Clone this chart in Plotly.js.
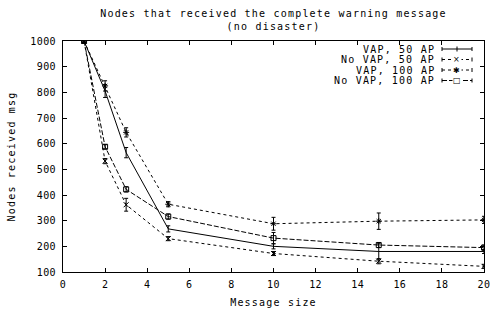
<!DOCTYPE html>
<html><head><meta charset="utf-8">
<script src="https://cdn.plot.ly/plotly-3.0.1.min.js"></script>
<style>
html,body{margin:0;padding:0;background:#fff}#c{width:501px;height:311px}
.gtitle, .g-xtitle text, .g-ytitle text, .annotation-text{letter-spacing:1.2px}
.xtick text, .ytick text{letter-spacing:0.4px}
</style>
</head><body><div id="c"></div>
<script>
const msgSize = [1, 2, 3, 5, 10, 15, 20];
const vap50 = [1000, 805, 565, 268, 200, 180, 180];
const vap50Err = [5, 25, 20, 12, 10, 30, 8];
const noVap50 = [1000, 532, 362, 230, 172, 142, 122];
const noVap50Err = [5, 10, 25, 8, 8, 10, 8];
const vap100 = [1000, 825, 644, 364, 288, 298, 303];
const vap100Err = [5, 20, 18, 10, 25, 32, 14];
const noVap100 = [1000, 588, 422, 316, 232, 205, 195];
const noVap100Err = [5, 8, 10, 10, 22, 10, 10];
const names = ["VAP, 50 AP", "No VAP, 50 AP", "VAP, 100 AP", "No VAP, 100 AP"];
const xTicks = [0,2,4,6,8,10,12,14,16,18,20];
const yTicks = [100,200,300,400,500,600,700,800,900,1000];

const font = "DejaVu Sans Mono, monospace";
const dashes = ['solid', 'dot', '3px,3px', '5px,2px'];
const glyphs = ['', '×', '✱', '□'];
function tr(y, e, name, dash, sym) {
  return {x: msgSize, y: y, name: name, type: 'scatter', mode: sym ? 'lines+markers' : 'lines',
    showlegend: false,
    line: {color: '#000', width: 1, dash: dash},
    marker: {symbol: sym || 'line-ew', size: 5, color: '#000', line: {color: '#000', width: 1}},
    error_y: {type: 'data', array: e, visible: true, color: '#000', thickness: 1, width: 2}};
}
const data = [
  tr(vap50, vap50Err, names[0], dashes[0], null),
  tr(noVap50, noVap50Err, names[1], dashes[1], 'x-thin-open'),
  tr(vap100, vap100Err, names[2], dashes[2], 'asterisk-open'),
  tr(noVap100, noVap100Err, names[3], dashes[3], 'square-open')
];

// custom gnuplot-style key: text right-aligned, sample on the right
const L = 63, W = 421, T = 41, H = 231;
const px = p => (p - L) / W, py = q => (272 - q) / H;
const rows = [49, 59.5, 70, 80.5];
const annotations = [], shapes = [];
names.forEach((n, i) => {
  annotations.push({xref: 'paper', yref: 'paper', x: px(437), y: py(rows[i]), xanchor: 'right', yanchor: 'middle',
    text: n, showarrow: false, font: {family: font, size: 10, color: '#000'}});
  shapes.push({type: 'line', xref: 'paper', yref: 'paper', x0: px(442), x1: px(472), y0: py(rows[i]), y1: py(rows[i]),
    line: {color: '#000', width: 1, dash: dashes[i]}});
  [442, 472].forEach(xx => shapes.push({type: 'line', xref: 'paper', yref: 'paper', x0: px(xx), x1: px(xx),
    y0: py(rows[i] - 2), y1: py(rows[i] + 2), line: {color: '#000', width: 1}}));
  if (i === 0) {
    shapes.push({type: 'line', xref: 'paper', yref: 'paper', x0: px(457), x1: px(457),
      y0: py(rows[i] - 2.5), y1: py(rows[i] + 2.5), line: {color: '#000', width: 1}});
  } else {
    annotations.push({xref: 'paper', yref: 'paper', x: px(457), y: py(rows[i]), xanchor: 'center', yanchor: 'middle',
      text: glyphs[i], showarrow: false, bgcolor: '#fff', borderpad: 0,
      font: {family: 'DejaVu Sans', size: 8, color: '#000'}});
  }
});

const ax = {showgrid: false, zeroline: false, showline: true, linecolor: '#000', linewidth: 1,
  mirror: 'ticks', ticks: 'inside', ticklen: 4, tickcolor: '#000',
  tickfont: {family: font, size: 10, color: '#000'}};
const layout = {
  width: 501, height: 311, paper_bgcolor: '#fff', plot_bgcolor: '#fff',
  margin: {l: 63, r: 17, t: 41, b: 39},
  title: {text: 'Nodes that received the complete warning message<br>(no disaster)',
    font: {family: font, size: 10, color: '#000'}, xref: 'paper', x: 0.5, xanchor: 'center',
    yref: 'container', y: 0.946, yanchor: 'top'},
  xaxis: Object.assign({}, ax, {range: [0, 20], tickvals: xTicks, ticklabelstandoff: 3,
    title: {text: 'Message size', font: {family: font, size: 10, color: '#000'}, standoff: 9}}),
  yaxis: Object.assign({}, ax, {range: [100, 1000], tickvals: yTicks, ticklabelstandoff: 4,
    title: {text: 'Nodes received msg', font: {family: font, size: 10, color: '#000'}, standoff: 12}}),
  showlegend: false,
  annotations: annotations,
  shapes: shapes
};
Plotly.newPlot('c', data, layout, {staticPlot: true, displayModeBar: false});
</script></body></html>
